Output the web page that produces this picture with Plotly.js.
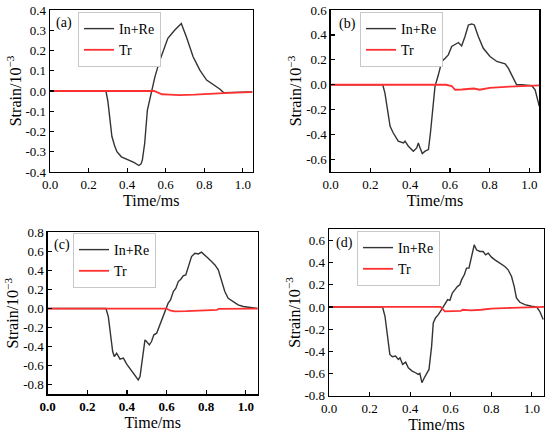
<!DOCTYPE html>
<html>
<head>
<meta charset="utf-8">
<script src="https://cdn.plot.ly/plotly-3.0.1.min.js"></script>
<style>html,body{margin:0;padding:0;background:#fff;}#chart{width:550px;height:434px;}</style>
</head>
<body>
<div id="chart"></div>
<script>
// ---------- DATA ----------
const seriesNames = ["In+Re", "Tr"];
const panelLabels = ["(a)", "(b)", "(c)", "(d)"];
const xTickLabels = ["0.0", "0.2", "0.4", "0.6", "0.8", "1.0"];
const yTickLabelsA = ["-0.4", "-0.3", "-0.2", "-0.1", "0.0", "0.1", "0.2", "0.3", "0.4"];
const yTickLabelsB = ["-0.6", "-0.4", "-0.2", "0.0", "0.2", "0.4", "0.6"];
const yTickLabelsC = ["-0.8", "-0.6", "-0.4", "-0.2", "0.0", "0.2", "0.4", "0.6", "0.8"];
const yTickLabelsD = ["-0.8", "-0.6", "-0.4", "-0.2", "0.0", "0.2", "0.4", "0.6"];

// Panel (a)
const tA_InRe = [0, 0.29, 0.30, 0.31, 0.321, 0.335, 0.347, 0.37, 0.40, 0.435, 0.461, 0.472, 0.479, 0.491, 0.505, 0.52, 0.532, 0.544, 0.567, 0.593, 0.611, 0.646, 0.665, 0.681, 0.69, 0.707, 0.742, 0.777, 0.812, 0.856, 0.88, 0.90, 0.95, 1.0, 1.05];
const vA_InRe = [0, 0, -0.05, -0.15, -0.225, -0.27, -0.30, -0.325, -0.337, -0.353, -0.368, -0.36, -0.34, -0.258, -0.094, -0.03, 0.005, 0.07, 0.145, 0.21, 0.26, 0.30, 0.32, 0.333, 0.31, 0.268, 0.169, 0.103, 0.054, 0.025, 0.01, -0.008, -0.008, -0.006, -0.005];
const tA_Tr = [0, 0.54, 0.56, 0.58, 0.62, 0.67, 0.75, 0.8, 0.9, 1.0, 1.05];
const vA_Tr = [0, 0, -0.008, -0.016, -0.018, -0.02, -0.018, -0.015, -0.01, -0.007, -0.006];

// Panel (b)
const tB_InRe = [0, 0.262, 0.273, 0.29, 0.299, 0.315, 0.34, 0.366, 0.374, 0.391, 0.416, 0.433, 0.441, 0.45, 0.461, 0.475, 0.492, 0.502, 0.512, 0.525, 0.542, 0.559, 0.576, 0.592, 0.609, 0.626, 0.643, 0.659, 0.676, 0.693, 0.71, 0.723, 0.743, 0.768, 0.802, 0.836, 0.861, 0.878, 0.894, 0.919, 0.936, 0.961, 1.012, 1.029, 1.045, 1.05];
const vB_InRe = [0, 0, -0.067, -0.227, -0.333, -0.387, -0.453, -0.467, -0.453, -0.493, -0.533, -0.507, -0.467, -0.507, -0.552, -0.533, -0.52, -0.387, -0.2, -0.013, 0.08, 0.187, 0.213, 0.24, 0.307, 0.32, 0.339, 0.312, 0.387, 0.48, 0.488, 0.48, 0.387, 0.293, 0.227, 0.187, 0.173, 0.168, 0.133, 0.053, 0.0, 0.0, -0.008, -0.04, -0.16, -0.173];
const tB_Tr = [0, 0.58, 0.609, 0.626, 0.66, 0.68, 0.72, 0.75, 0.8, 0.9, 1.0, 1.05];
const vB_Tr = [0, 0, -0.01, -0.04, -0.038, -0.035, -0.03, -0.04, -0.025, -0.015, -0.008, -0.005];

// Panel (c)
const tC_InRe = [0, 0.294, 0.306, 0.318, 0.328, 0.336, 0.348, 0.365, 0.382, 0.398, 0.424, 0.44, 0.457, 0.466, 0.479, 0.491, 0.499, 0.513, 0.524, 0.536, 0.55, 0.563, 0.575, 0.587, 0.60, 0.608, 0.62, 0.634, 0.647, 0.659, 0.672, 0.684, 0.697, 0.709, 0.726, 0.743, 0.76, 0.776, 0.793, 0.81, 0.827, 0.844, 0.861, 0.877, 0.894, 0.911, 0.936, 0.961, 0.987, 1.02, 1.06];
const vC_InRe = [0, 0, -0.084, -0.294, -0.451, -0.503, -0.469, -0.531, -0.521, -0.58, -0.66, -0.696, -0.748, -0.713, -0.538, -0.329, -0.346, -0.381, -0.346, -0.276, -0.259, -0.189, -0.136, -0.066, -0.007, 0.056, 0.091, 0.178, 0.213, 0.283, 0.308, 0.343, 0.353, 0.44, 0.545, 0.58, 0.573, 0.591, 0.563, 0.528, 0.493, 0.458, 0.406, 0.301, 0.178, 0.108, 0.073, 0.038, 0.021, 0.01, 0];
const tC_Tr = [0, 0.60, 0.617, 0.64, 0.70, 0.80, 0.855, 0.862, 0.95, 1.06];
const vC_Tr = [0, 0, -0.02, -0.03, -0.028, -0.022, -0.015, -0.003, -0.002, 0];

// Panel (d)
const tD_InRe = [0, 0.264, 0.276, 0.289, 0.30, 0.312, 0.328, 0.342, 0.35, 0.363, 0.378, 0.391, 0.41, 0.427, 0.44, 0.448, 0.458, 0.47, 0.481, 0.493, 0.506, 0.514, 0.525, 0.539, 0.555, 0.571, 0.585, 0.596, 0.608, 0.621, 0.634, 0.645, 0.654, 0.667, 0.678, 0.69, 0.703, 0.716, 0.727, 0.744, 0.76, 0.772, 0.785, 0.801, 0.818, 0.842, 0.867, 0.883, 0.90, 0.913, 0.924, 0.941, 0.966, 0.998, 1.023, 1.039, 1.056];
const vD_InRe = [0, 0, -0.084, -0.293, -0.428, -0.449, -0.443, -0.473, -0.458, -0.518, -0.497, -0.548, -0.578, -0.593, -0.608, -0.599, -0.683, -0.638, -0.608, -0.563, -0.353, -0.144, -0.099, -0.069, -0.024, 0.021, 0.066, 0.06, 0.126, 0.156, 0.186, 0.2, 0.246, 0.29, 0.35, 0.35, 0.47, 0.56, 0.515, 0.5, 0.5, 0.47, 0.485, 0.449, 0.425, 0.395, 0.365, 0.335, 0.275, 0.186, 0.081, 0.042, 0.021, 0.006, 0, -0.039, -0.114];
const tD_Tr = [0, 0.55, 0.571, 0.60, 0.65, 0.66, 0.70, 0.75, 0.80, 0.90, 1.0, 1.06];
const vD_Tr = [0, 0, -0.039, -0.04, -0.035, -0.025, -0.03, -0.025, -0.015, -0.008, -0.003, 0];

// ---------- STYLE / LAYOUT ----------
const FONT = "'Liberation Serif', serif";
const BLACK = "#333333", RED = "#ff3030";
const W = 550, H = 434;
// pixel boxes [left, right, top, bottom]
const boxes = [[50, 252.5, 10, 172], [330.7, 539.3, 10, 172], [47.7, 257.7, 232.3, 394.3], [329, 544, 229.3, 395.7]];
const xMax = [1.05, 1.05, 1.06, 1.06];
const yRanges = [[-0.4, 0.4], [-0.7, 0.6], [-0.9, 0.8], [-0.8, 0.7]];
const yTicks = [yTickLabelsA, yTickLabelsB, yTickLabelsC, yTickLabelsD];
const legendBoxes = [[78, 12], [360, 12], [73, 233], [357, 231]];
const labelPos = [[64, 23], [347, 24], [62, 245], [344, 243]];
const boldX = [false, false, true, false];

const tData = [[tA_InRe, tA_Tr], [tB_InRe, tB_Tr], [tC_InRe, tC_Tr], [tD_InRe, tD_Tr]];
const vData = [[vA_InRe, vA_Tr], [vB_InRe, vB_Tr], [vC_InRe, vC_Tr], [vD_InRe, vD_Tr]];

const traces = [];
const layout = {
  width: W, height: H,
  margin: {l: 0, r: 0, t: 0, b: 0},
  paper_bgcolor: "#fff", plot_bgcolor: "#fff",
  font: {family: FONT, color: "#000", size: 13},
  showlegend: true,
  annotations: []
};

for (let i = 0; i < 4; i++) {
  const sfx = i === 0 ? "" : String(i + 1);
  const legName = "legend" + sfx;
  const b = boxes[i];
  for (let s = 0; s < 2; s++) {
    traces.push({
      x: tData[i][s], y: vData[i][s],
      type: "scatter", mode: "lines",
      name: seriesNames[s],
      line: {color: s === 0 ? BLACK : RED, width: s === 0 ? 1.4 : 1.8},
      xaxis: "x" + sfx, yaxis: "y" + sfx,
      legend: legName
    });
  }
  const axCommon = {
    showline: true, linecolor: "#000", linewidth: 1.3, mirror: true,
    ticks: "inside", ticklen: 4, tickwidth: 1.2, tickcolor: "#000",
    showgrid: false, zeroline: false, automargin: false
  };
  layout["xaxis" + sfx] = Object.assign({}, axCommon, {
    domain: [b[0] / W, b[1] / W],
    range: [0, xMax[i]],
    tickvals: xTickLabels.map(parseFloat), ticktext: xTickLabels,
    tickfont: boldX[i] ? {family: FONT, size: 13, color: "#000", weight: "bold"} : {family: FONT, size: 13, color: "#000"},
    anchor: "y" + sfx,
    title: {text: "Time/ms", font: {family: FONT, size: 16, color: "#000"}, standoff: 2}
  });
  layout["yaxis" + sfx] = Object.assign({}, axCommon, {
    domain: [1 - b[3] / H, 1 - b[2] / H],
    range: yRanges[i],
    tickvals: yTicks[i].map(parseFloat), ticktext: yTicks[i],
    tickfont: {family: FONT, size: 13, color: "#000"},
    anchor: "x" + sfx,
    title: {text: "Strain/10<sup>−3</sup>", font: {family: FONT, size: 16, color: "#000"}, standoff: 0}
  });
  layout[legName] = {
    x: legendBoxes[i][0] / W, y: 1 - legendBoxes[i][1] / H,
    xref: "paper", yref: "paper", xanchor: "left", yanchor: "top",
    bgcolor: "rgba(255,255,255,1)", bordercolor: "#c8c8c8", borderwidth: 1,
    font: {family: FONT, size: 14, color: "#000"},
    tracegroupgap: 0, itemwidth: 30
  };
  layout.annotations.push({
    text: panelLabels[i], xref: "paper", yref: "paper",
    x: labelPos[i][0] / W, y: 1 - labelPos[i][1] / H,
    xanchor: "center", yanchor: "middle", showarrow: false,
    font: {family: FONT, size: 14, color: "#000"}
  });
}

Plotly.newPlot("chart", traces, layout, {staticPlot: true, displayModeBar: false});
</script>
</body>
</html>
